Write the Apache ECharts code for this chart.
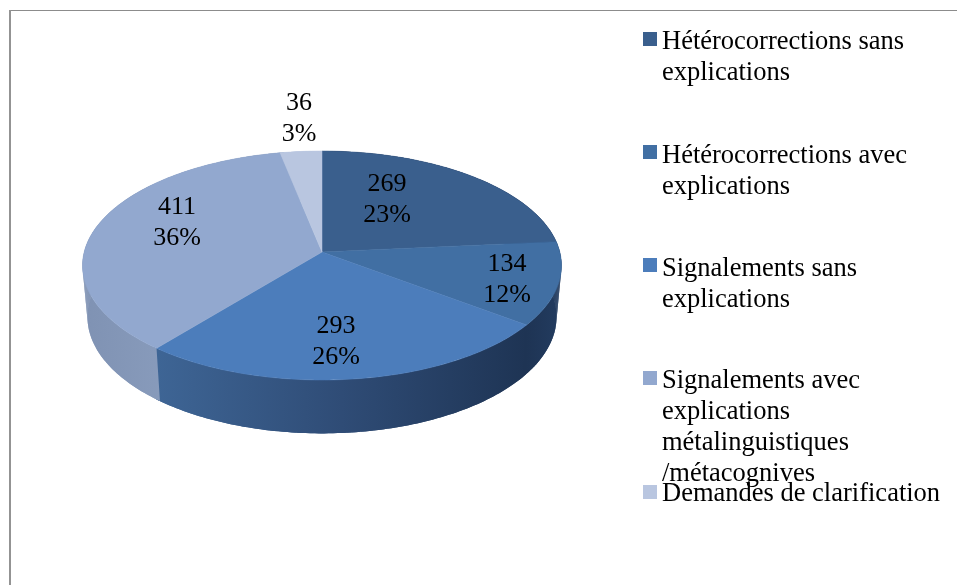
<!DOCTYPE html>
<html>
<head>
<meta charset="utf-8">
<style>html,body{margin:0;padding:0;background:#fff}#c{width:957px;height:585px}</style>
<script src="https://cdn.jsdelivr.net/npm/echarts@6/dist/echarts.min.js"></script>
</head>
<body>
<div id="c"></div>
<script>
// ---- data ----
const categories = [
  ['Hétérocorrections sans', 'explications'],
  ['Hétérocorrections avec', 'explications'],
  ['Signalements sans', 'explications'],
  ['Signalements avec', 'explications', 'métalinguistiques', '/métacognives'],
  ['Demandes de clarification']
];
const values = [269, 134, 293, 411, 36];
const percentLabels = ['23%', '12%', '26%', '36%', '3%'];

// ---- styles / layout ----
const FONT = '"Liberation Serif", "Times New Roman", serif';
const FS = 26.5, LFS = 26, LH = 31;
const topColors = ['#3a5f8d', '#416fa3', '#4c7dbb', '#92a8cf', '#b9c6e0'];
const wallStops = [
  [[0, '#1f3556'], [1, '#1f3556']],
  [[0, '#1e3454'], [1, '#233c60']],
  [[0, '#3e6595'], [0.5, '#2f4c76'], [1, '#1e3454']],
  [[0, '#7f92b3'], [0.6, '#8c9fbf'], [1, '#8899b7']],
  [[0, '#b9c6e0'], [1, '#b9c6e0']]
];
const labelCenters = [[387, 200], [507, 280], [336, 342], [177, 223], [299, 119]];
const legendMarkerY = [39, 152, 265, 378, 492];
const legendTextDrop = [3, 4, 4, 3.5, 2];
const pie = { cx: 322, k: -0.118, topY: 252, topR: 237.8, topA: 112.9, botY: 303, botR: 232.9, botA: 115 };

const total = values.reduce((s, v) => s + v, 0);
const starts = values.map((_, i) => values.slice(0, i).reduce((s, v) => s + v, 0));

function project(frac, y0, R, a) {
  const t = frac * 2 * Math.PI, u = Math.sin(t), v = -Math.cos(t);
  const d = 1 + pie.k * v;
  return [pie.cx + R * u / d, y0 + a * v / d];
}
const topPoint = f => project(f, pie.topY, pie.topR, pie.topA);
const bottomPoint = f => project(f, pie.botY, pie.botR, pie.botA);
function arc(fn, from, to) {
  const n = Math.max(2, Math.ceil((to - from) * 360));
  const pts = [];
  for (let j = 0; j <= n; j++) pts.push(fn(from + (to - from) * j / n));
  return pts;
}

function makeRender(i) {
  return function (params, api) {
    const from = starts[i] / total;
    const to = from + api.value(0) / total;
    const top = arc(topPoint, from, to);
    const wTop = arc(topPoint, from, to + 0.003);
    const wBottom = arc(bottomPoint, from, to + 0.003);
    const xs = top.map(p => p[0]);
    const x0 = Math.min.apply(null, xs), x1 = Math.max.apply(null, xs);
    const stops = wallStops[i].map(s => ({ offset: s[0], color: s[1] }));
    const wallFill = new echarts.graphic.LinearGradient(0, 0, 1, 0, stops);
    wallFill.global = true; wallFill.x = x0; wallFill.y = 0; wallFill.x2 = x1; wallFill.y2 = 0;
    // band plus per-step quads: the band hides seams, the quads fill the silhouette
    const walls = [{ type: 'polygon', z2: 1,
      shape: { points: wTop.concat(wBottom.slice().reverse()) },
      style: { fill: wallFill } }];
    for (let j = 0; j + 1 < wTop.length; j++) {
      walls.push({ type: 'polygon', z2: 0.5,
        shape: { points: [wTop[j], wTop[j + 1], wBottom[j + 1], wBottom[j]] },
        style: { fill: wallFill } });
    }
    const lc = labelCenters[i];
    return {
      type: 'group',
      children: walls.concat([
        { type: 'polygon', z2: 2, shape: { points: [[pie.cx, pie.topY]].concat(top) },
          style: { fill: topColors[i], stroke: topColors[i], lineWidth: 0.5 } },
        { type: 'text', z2: 3, style: {
            x: lc[0], y: lc[1], text: api.value(0) + '\n' + percentLabels[i],
            font: LFS + 'px ' + FONT, fill: '#000', align: 'center', verticalAlign: 'middle', lineHeight: LH } }
      ])
    };
  };
}

const names = categories.map(c => c.join(' '));
const option = {
  backgroundColor: '#fff',
  animation: false,
  graphic: [
    { type: 'rect', shape: { x: 9, y: 10, width: 948, height: 1 }, style: { fill: '#8c8c8c' } },
    { type: 'rect', shape: { x: 9, y: 10, width: 2, height: 575 }, style: { fill: '#939393' } }
  ],
  legend: categories.map((lines, i) => {
    // a blank rich-text spacer above the lines keeps the marker level with the first line
    const n = lines.length;
    const spacer = LH * (n - 1) + 2 * legendTextDrop[i];
    const height = spacer + n * LH;
    return {
      data: [names[i]],
      selectedMode: false,
      left: 643,
      top: legendMarkerY[i] - height / 2,
      padding: 0,
      itemWidth: 14, itemHeight: 14, itemGap: 0,
      icon: 'rect',
      formatter: () => '{g| }\n' + lines.map(l => '{t|' + l + '}').join('\n'),
      textStyle: {
        color: '#000',
        rich: {
          g: { fontSize: 1, lineHeight: spacer, height: spacer },
          t: { fontFamily: FONT, fontSize: FS, lineHeight: LH, height: LH, color: '#000' }
        }
      }
    };
  }),
  series: values.map((v, i) => ({
    type: 'custom',
    name: names[i],
    coordinateSystem: 'none',
    silent: true,
    itemStyle: { color: topColors[i] },
    data: [[v]],
    renderItem: makeRender(i)
  }))
};
const chart = echarts.init(document.getElementById('c'), null, { renderer: 'canvas' });
chart.setOption(option);
</script>
</body>
</html>
